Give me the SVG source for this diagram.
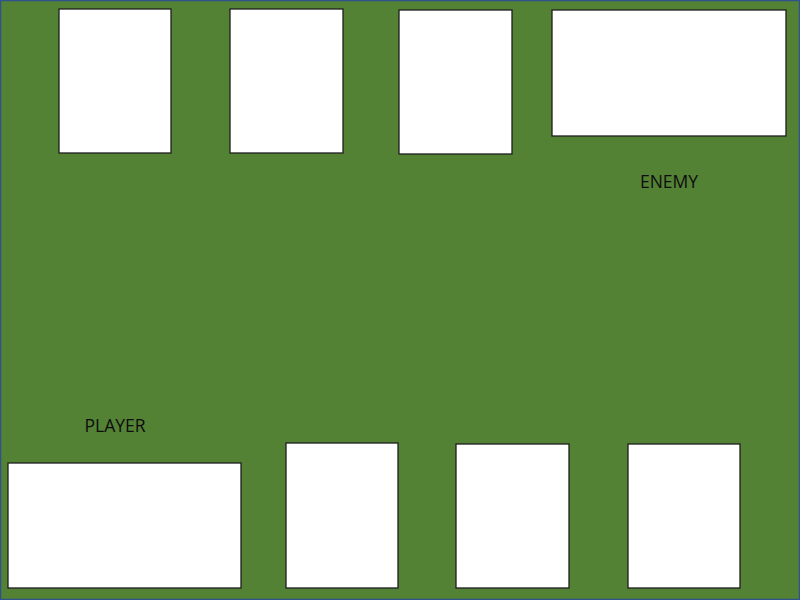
<svg xmlns="http://www.w3.org/2000/svg" width="800" height="600" viewBox="0 0 800 600">
<style>
.card{fill:#ffffff;stroke:#1e1e1e;stroke-width:1.3}
.lbl{font-family:"Open Sans","Liberation Sans",sans-serif;font-size:17.5px;fill:#0d0d0d;text-anchor:middle}
</style>
<rect x="0.5" y="0.5" width="799" height="599" fill="#548235" stroke="#2f528f" stroke-width="1.5"/>
<g id="enemy-card-1"><rect class="card" x="59" y="9" width="112" height="144"/></g>
<g id="enemy-card-2"><rect class="card" x="230" y="9" width="113" height="144"/></g>
<g id="enemy-card-3"><rect class="card" x="399" y="10" width="113" height="144"/></g>
<g id="enemy-hero"><rect class="card" x="552" y="10" width="234" height="126"/></g>
<g id="enemy-label"><text class="lbl" x="669" y="188">ENEMY</text></g>
<g id="player-label"><text class="lbl" x="115" y="432">PLAYER</text></g>
<g id="player-hero"><rect class="card" x="8" y="463" width="233" height="125"/></g>
<g id="player-card-1"><rect class="card" x="286" y="443" width="112" height="145"/></g>
<g id="player-card-2"><rect class="card" x="456" y="444" width="113" height="144"/></g>
<g id="player-card-3"><rect class="card" x="628" y="444" width="112" height="144"/></g>
<g id="connectors"/>
</svg>
